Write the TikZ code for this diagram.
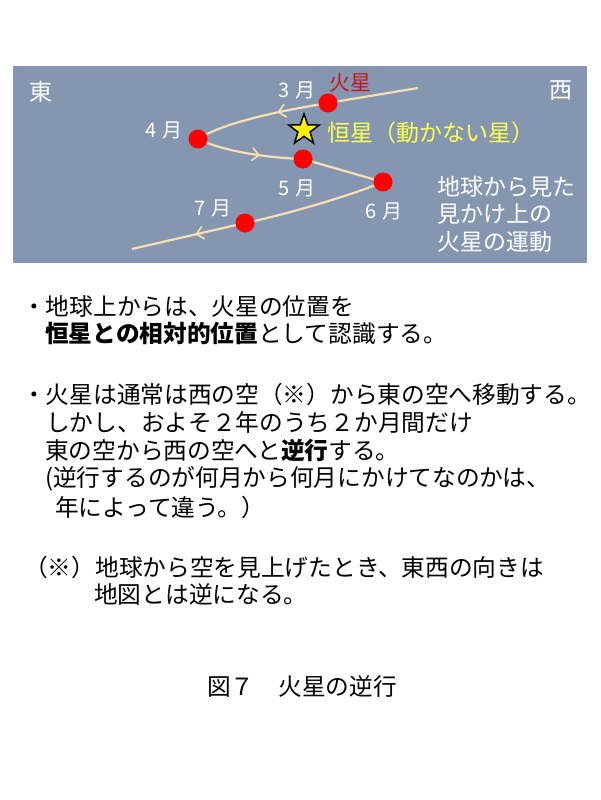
\documentclass[tikz,border=0pt]{standalone}
\usepackage{fontspec}
\setmainfont{Noto Sans CJK JP}
\usetikzlibrary{shapes.geometric,arrows.meta,decorations.markings}
\definecolor{panel}{HTML}{8496B0}
\definecolor{orbit}{HTML}{F6DFB2}
\definecolor{marsred}{HTML}{FF0000}
\definecolor{marslabel}{HTML}{C8141E}
\definecolor{fixedstar}{HTML}{FFFF50}
\pgfdeclarelayer{bg}
\pgfsetlayers{bg,main}
\newcommand{\mlab}[1]{#1\hspace{6pt}月}
\begin{document}
\begin{tikzpicture}[x=1pt,y=-1pt,
  dot/.style={circle,fill=marsred,minimum size=19pt,inner sep=0pt},
  orbitline/.style={draw=orbit,line width=2.2pt},
  midarrow/.style={postaction={decorate},decoration={markings,mark=at position #1 with {\arrow[orbit,line width=1.6pt]{Straight Barb[length=7pt,width=13pt]}}}},
  lbl/.style={inner sep=0pt,anchor=west,font=\fontsize{23}{23}\selectfont},
  month/.style={inner sep=0pt,text=white,font=\fontsize{20}{20}\selectfont},
  body/.style={inner sep=0pt,anchor=west,font=\fontsize{23.7}{23.7}\selectfont}
]
\useasboundingbox (0,0) rectangle (600,800);

% markers
\node[dot] (m3) at (328,103) {};
\node[dot] (m4) at (198,139) {};
\node[dot] (m5) at (303,159) {};
\node[dot] (m6) at (383,182) {};
\node[dot] (m7) at (245,223) {};
\coordinate (startpt) at (418,88);
\coordinate (endpt) at (132,249);

\begin{pgfonlayer}{bg}
\fill[white] (0,0) rectangle (600,800);
\fill[panel] (13,66) rectangle (587,263);
\draw[orbitline] (startpt) -- (m3.center);
\draw[orbitline,midarrow=0.38] (m3.center) .. controls (280,111) and (225,122) .. (m4.center);
\draw[orbitline,midarrow=0.6] (m4.center) .. controls (225,152) and (270,158) .. (m5.center);
\draw[orbitline] (m5.center) -- (m6.center);
\draw[orbitline] (m6.center) .. controls (350,196) and (280,216) .. (m7.center);
\draw[orbitline,midarrow=0.44] (m7.center) -- (endpt);
\end{pgfonlayer}

\node[star,star points=5,star point ratio=2.5,fill=yellow,draw=black,line width=1.5pt,minimum size=32pt,inner sep=0pt] (star) at (304,130) {};

\node[lbl,text=white] (east) at (29,92) {東};
\node[lbl,text=white] (west) at (549,90) {西};
\node[month] (l3) at (297,90) {\mlab{3}};
\node[month] (l4) at (164,130) {\mlab{4}};
\node[month] (l5) at (297,188) {\mlab{5}};
\node[month] (l6) at (384,211) {\mlab{6}};
\node[month] (l7) at (213,208) {\mlab{7}};
\node[inner sep=0pt,anchor=west,text=marslabel,font=\fontsize{21}{21}\selectfont] (mars) at (329,83) {火星};
\node[lbl,text=fixedstar] (fixed) at (327,133) {恒星（動かない星）};
\node[lbl,text=white] (cap1) at (437,187) {地球から見た};
\node[lbl,text=white] (cap2) at (437,214) {見かけ上の};
\node[lbl,text=white] (cap3) at (437,242) {火星の運動};

% body text
\node[body] (t1) at (22,306) {・地球上からは、火星の位置を};
\node[body] (t2) at (45,334) {\textbf{恒星との相対的位置}として認識する。};
\node[body] (t3) at (22,394) {・火星は通常は西の空（※）から東の空へ移動する。};
\node[body] (t4) at (46,422) {しかし、およそ２年のうち２か月間だけ};
\node[body] (t5) at (45,450) {東の空から西の空へと\textbf{逆行}する。};
\node[body] (t6) at (45,479) {(逆行するのが何月から何月にかけてなのかは、};
\node[body] (t7) at (55,507) {年によって違う。）};
\node[body] (t8) at (24,567) {（※）地球から空を見上げたとき、東西の向きは};
\node[body] (t9) at (94,594) {地図とは逆になる。};
\node[body] (fig) at (207,687) {図７　火星の逆行};
\end{tikzpicture}
\end{document}
